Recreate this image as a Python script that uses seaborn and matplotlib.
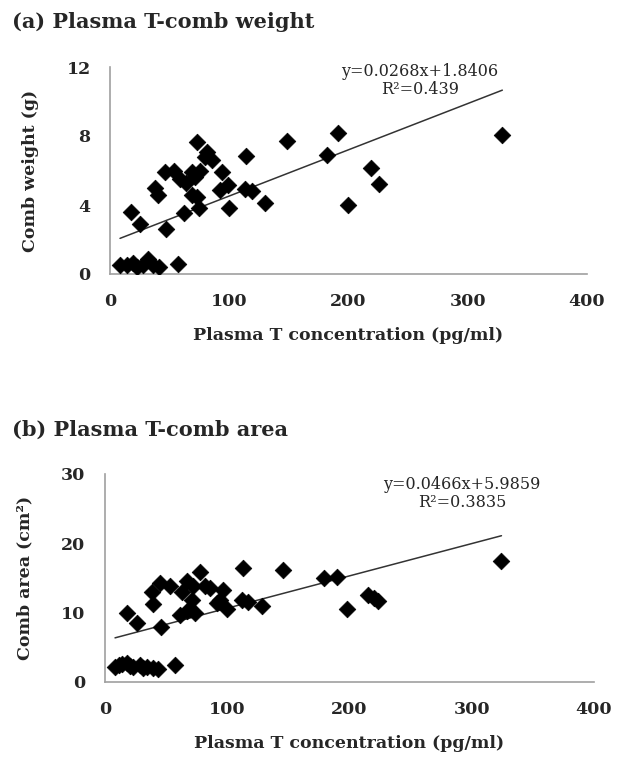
import matplotlib
matplotlib.use('Agg')
import matplotlib.pyplot as plt
import seaborn as sns
import numpy as np

# Panel (a): plasma T vs comb weight
t_conc_a = [8.4, 14.0, 19.6, 22.4, 27.9, 32.1, 36.3, 41.4, 56.8,
            17.6, 25.2, 46.7, 37.8, 40.0, 46.1, 53.7, 58.7, 63.8, 68.5, 75.5, 71.5,
            73.3, 81.1, 85.3, 79.7, 114.1, 148.2, 191.5, 181.8, 93.7,
            68.5, 73.3, 92.3, 99.2, 113.3, 118.9, 130.0, 74.7, 100.1, 62.1,
            219.0, 225.7, 199.9, 329.0]
comb_weight = [0.52, 0.55, 0.65, 0.42, 0.55, 0.85, 0.55, 0.42, 0.6,
               3.6, 2.9, 2.6, 5.0, 4.6, 5.9, 6.0, 5.5, 5.3, 5.9, 6.0, 5.6,
               7.65, 7.07, 6.63, 6.78, 6.82, 7.71, 8.19, 6.88, 5.91,
               4.57, 4.47, 4.86, 5.14, 4.95, 4.82, 4.14, 3.85, 3.85, 3.55,
               6.14, 5.2, 3.99, 8.03]
fit_a = (0.0268, 1.8406)

# Panel (b): plasma T vs comb area
t_conc_b = [8.2, 11.5, 13.7, 17.7, 20.5, 23.1, 28.6, 31.0, 34.1, 39.5, 43.6, 57.2,
            18.3, 25.9, 45.5, 38.2, 39.0, 45.0, 53.1, 62.7, 66.8, 72.2, 77.7, 81.8,
            85.9, 96.7, 94.0, 91.3, 99.5, 113.1, 111.8, 117.2, 128.1, 70.9, 69.5,
            61.3, 73.6, 66.8, 145.8, 179.0, 189.4, 197.6, 215.3, 220.0, 223.5, 324.3]
comb_area = [2.2, 2.5, 2.6, 2.8, 2.3, 2.1, 2.4, 2.0, 2.2, 2.0, 1.9, 2.4,
             9.9, 8.5, 8.0, 13.0, 11.3, 14.3, 13.8, 13.0, 14.5, 13.8, 15.9, 13.8,
             13.5, 13.3, 11.8, 11.4, 10.5, 16.4, 11.8, 11.5, 11.0, 11.8, 10.6,
             9.7, 9.9, 10.2, 16.2, 15.0, 15.1, 10.5, 12.6, 12.1, 11.7, 17.5]
fit_b = (0.0466, 5.9859)

sns.set_style('white')
plt.rcParams['font.family'] = ['DejaVu Serif']

W, H = 622, 764
fig = plt.figure(figsize=(W / 100, H / 100), dpi=100)


def px_axes(left, right, top, bottom):
    return fig.add_axes([left / W, 1 - bottom / H, (right - left) / W, (bottom - top) / H])


def draw_panel(ax, x, y, fit, ylim, yticks, ylabel, eq, r2, eq_xy):
    sns.scatterplot(x=x, y=y, marker='D', color='black', edgecolor='black',
                    s=72, linewidth=0.5, ax=ax, zorder=3)
    xs = np.array([min(x), max(x)])
    ax.plot(xs, fit[0] * xs + fit[1], color='#333333', lw=1.1, zorder=2)
    ax.set_xlim(0, 400)
    ax.set_ylim(*ylim)
    ax.set_xticks([0, 100, 200, 300, 400])
    ax.set_yticks(yticks)
    for s in ['top', 'right']:
        ax.spines[s].set_visible(False)
    for s in ['left', 'bottom']:
        ax.spines[s].set_color('#a0a0a0')
        ax.spines[s].set_linewidth(1.2)
    ax.tick_params(direction='out', length=6, width=1.2, color='#a0a0a0',
                   labelsize=12.5, pad=8)
    for lab in ax.get_xticklabels() + ax.get_yticklabels():
        lab.set_fontweight('bold')
    ax.set_xlabel('Plasma T concentration (pg/ml)', fontsize=12.5, fontweight='bold', labelpad=12)
    ax.set_ylabel(ylabel, fontsize=12.5, fontweight='bold', labelpad=20)
    ax.text(eq_xy[0], eq_xy[1], eq + '\n' + r2, transform=ax.transAxes,
            ha='center', va='top', fontsize=11.5, linespacing=1.1)


ax_a = px_axes(110, 587, 67, 274)
draw_panel(ax_a, t_conc_a, comb_weight, fit_a, (0, 12), [0, 4, 8, 12],
           'Comb weight (g)', 'y=0.0268x+1.8406', 'R\u00b2=0.439', (0.65, 1.02))

ax_b = px_axes(105, 594, 474, 682)
draw_panel(ax_b, t_conc_b, comb_area, fit_b, (0, 30), [0, 10, 20, 30],
           'Comb area (cm\u00b2)', 'y=0.0466x+5.9859', 'R\u00b2=0.3835', (0.73, 0.99))

fig.text(12 / W, 1 - 22 / H, '(a) Plasma T-comb weight', fontsize=15,
         fontweight='bold', ha='left', va='center')
fig.text(12 / W, 1 - 430 / H, '(b) Plasma T-comb area', fontsize=15,
         fontweight='bold', ha='left', va='center')

fig.savefig('out.png', dpi=100)
